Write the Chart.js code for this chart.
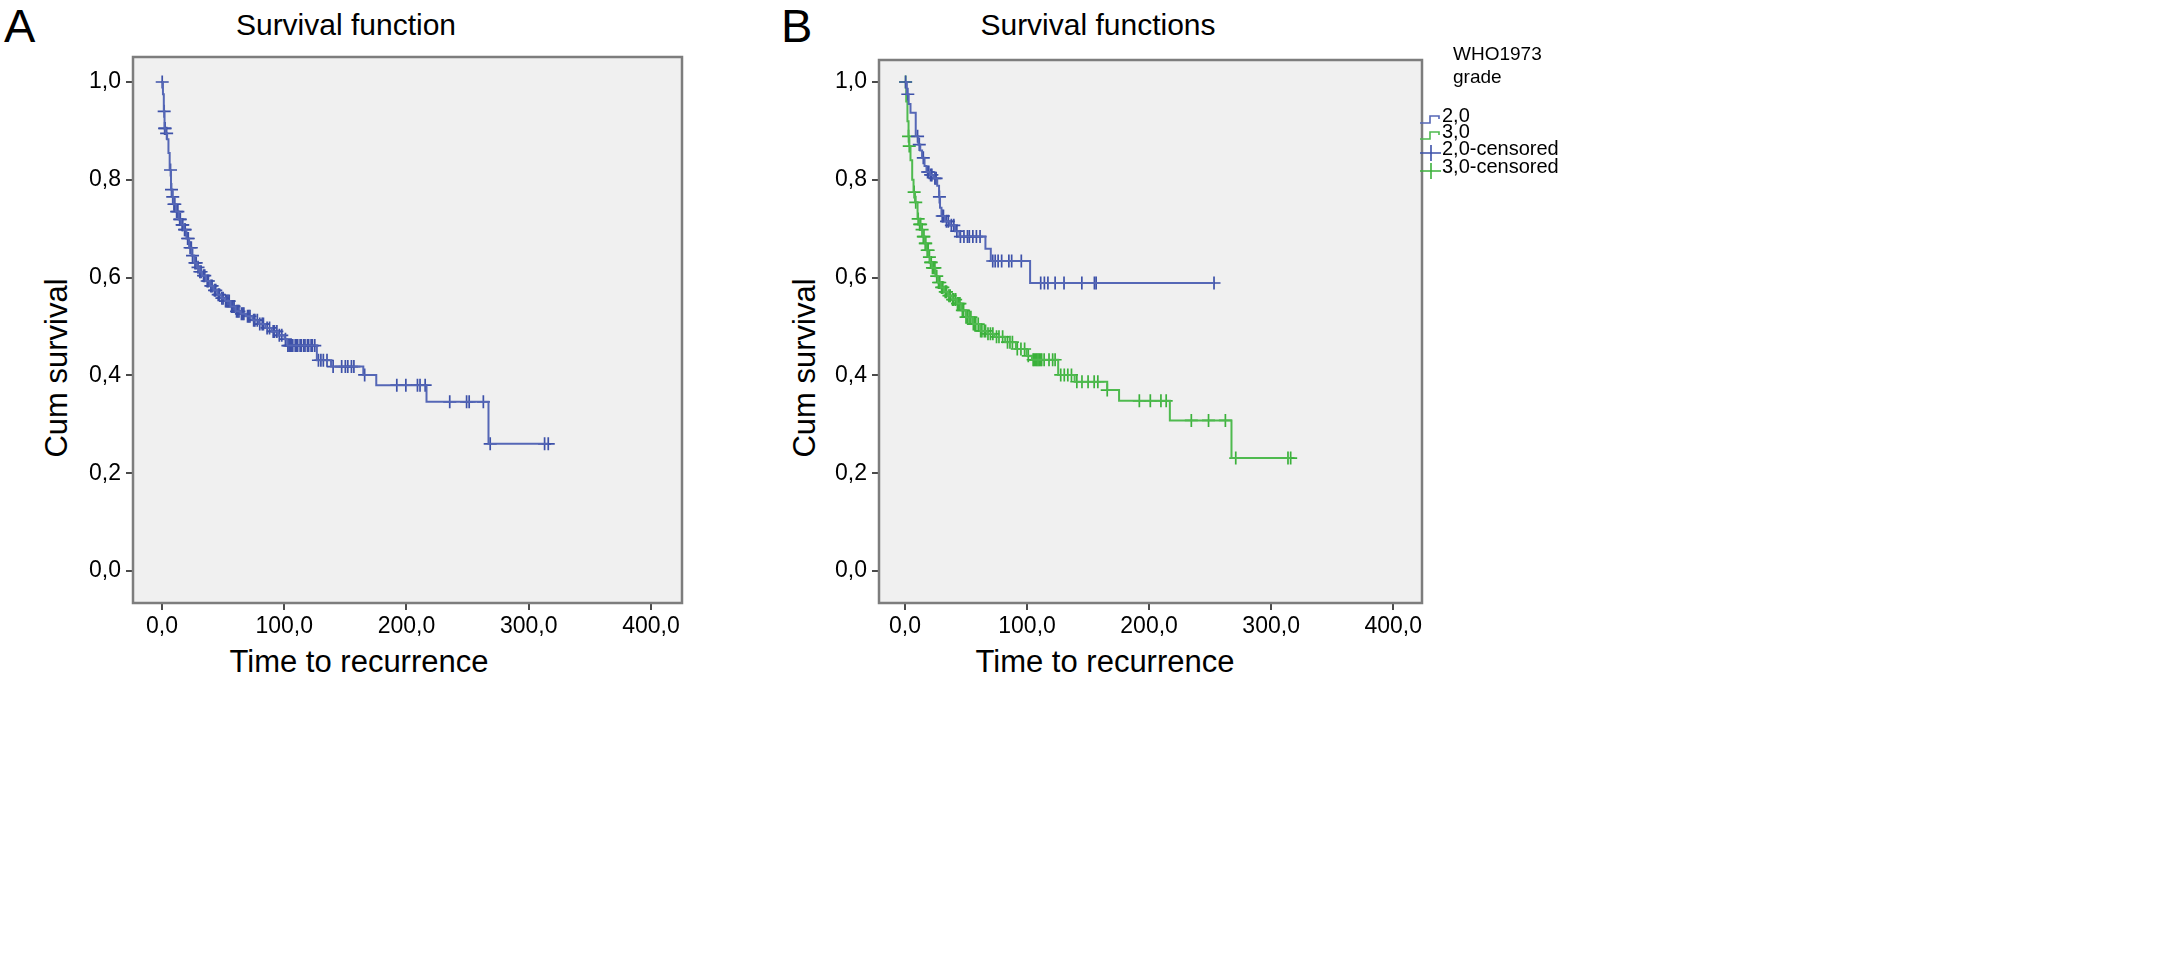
<!DOCTYPE html>
<html>
<head>
<meta charset="utf-8">
<script src="https://cdn.jsdelivr.net/npm/chart.js@4.4.1/dist/chart.umd.min.js"></script>
<style>
body { margin: 0; background: #fff; width: 2182px; height: 955px; position: relative; overflow: hidden; font-family: 'Liberation Sans', Arial, sans-serif; color: #000; }
.txt { position: absolute; white-space: nowrap; }
canvas { position: absolute; }
.ytitle { position: absolute; width: 300px; height: 36px; line-height: 36px; text-align: center; font-size: 31px; transform: rotate(-90deg); }
.legrow { position: absolute; font-size: 20px; line-height: 20px; white-space: nowrap; }
.legrow svg { position: absolute; left: -22px; top: 2px; }
</style>
</head>
<body>

<div class="txt" style="left:4px; top:-2px; font-size:47px;">A</div>
<div class="txt" style="left:781px; top:-2px; font-size:47px;">B</div>
<div class="txt" style="left:146px; width:400px; text-align:center; top:10px; font-size:30px; line-height:30px;">Survival function</div>
<div class="txt" style="left:898px; width:400px; text-align:center; top:10px; font-size:30px; line-height:30px;">Survival functions</div>

<div class="ytitle" style="left:-93px; top:350px;">Cum survival</div>
<div class="ytitle" style="left:655px; top:350px;">Cum survival</div>
<div class="txt" style="left:159px; width:400px; text-align:center; top:646px; font-size:31px; line-height:31px;">Time to recurrence</div>
<div class="txt" style="left:905px; width:400px; text-align:center; top:646px; font-size:31px; line-height:31px;">Time to recurrence</div>

<canvas id="chartA" width="700" height="700" style="left:0; top:0;"></canvas>
<canvas id="chartB" width="740" height="700" style="left:720px; top:0;"></canvas>

<div class="txt" style="left:1453px; top:42px; font-size:19px; line-height:23px;">WHO1973<br>grade</div>
<div id="legend"></div>

<script>
// axis ticks
const xTickValues = [0, 100, 200, 300, 400];
const yTickValues = [0, 0.2, 0.4, 0.6, 0.8, 1.0];

// Panel A - all patients: event times and survival after each step
const allTimes = [0, 0.8, 1.5, 2.1, 3, 4.2, 5.3, 6.3, 7.4, 8.5, 9.5, 11.6, 13.7, 15.8, 17.9, 20, 22.2, 24.3, 26.4, 28.5,
  30.6, 32.7, 35.9, 39.1, 42.2, 45.4, 48.5, 51.7, 56, 60.2, 64.4, 68.6, 73.9, 79.2, 84.5, 89.7, 95, 100.3, 102.4,
  126.7, 138.3, 164.7, 175.3, 216.4, 267.1];
const allSurv = [1.0, 0.975, 0.94, 0.905, 0.895, 0.883, 0.855, 0.82, 0.78, 0.765, 0.75, 0.735, 0.719, 0.708, 0.698, 0.68, 0.661, 0.645, 0.63, 0.621,
  0.612, 0.604, 0.593, 0.583, 0.574, 0.565, 0.558, 0.552, 0.541, 0.531, 0.526, 0.521, 0.513, 0.505, 0.497, 0.49, 0.482, 0.474, 0.461,
  0.431, 0.418, 0.401, 0.38, 0.346, 0.26];
const allCensored = [0.2, 1.8, 2.2, 2.6, 3.8, 7, 7.8, 8.8, 9.8, 10.5, 12, 13, 14.5, 15, 16.5, 17, 18.5, 19, 21, 21.5, 23, 24, 25, 27, 28,
  29.5, 31, 32, 34, 35, 37, 38, 40, 41, 43, 44, 46, 47, 49, 50, 52, 53, 54, 55, 57, 58, 59, 61, 62, 63, 65, 66, 67, 70, 71, 72,
  75, 76, 78, 80, 82, 83, 86, 88, 91, 92, 94, 96, 98, 101, 103, 104, 105, 106, 107, 109, 110, 111, 113, 114, 116, 117, 119, 120,
  122, 123, 125, 128, 130, 132, 135, 140, 147, 150, 152, 155, 157, 165.8, 192.1, 199.5, 209, 211.1, 215.3, 235.4, 249.2, 251.3,
  262.9, 268.5, 313, 316];

// Panel B - grade 2,0
const g2Times = [0, 1.5, 3, 4.5, 8.8, 11, 12.5, 14, 16, 17.6, 20.5, 23.5, 26.4, 27.9, 28.7, 29.9, 32.8, 36.7, 41, 44.6, 65.9, 70.3, 102.5];
const g2Surv = [1.0, 0.975, 0.955, 0.937, 0.889, 0.872, 0.86, 0.845, 0.828, 0.816, 0.81, 0.803, 0.788, 0.765, 0.743, 0.726, 0.715, 0.707, 0.695, 0.684, 0.659, 0.634, 0.589];
const g2Censored = [0.5, 2.3, 10.3, 11.7, 15, 18.5, 19.5, 21, 22, 24.5, 25.5, 28.2, 30.5, 31.5, 34, 35.5, 38, 40, 42.5, 45.4, 48.3,
  51.2, 52.7, 55.6, 58.5, 61.5, 71.9, 73.9, 76.3, 79.2, 85.1, 87.4, 95.3, 111.2, 114.2, 117.1, 123, 130.3, 144.9, 155.2, 156.6, 253.2];

// Panel B - grade 3,0
const g3Times = [0, 1, 2, 2.9, 3.5, 4.5, 5.9, 7, 8.2, 10.3, 11.8, 13.2, 14.6, 16.1, 17.6, 19.1, 20.5, 22, 24.9, 27, 29.3, 32, 35.2,
  38.8, 42.5, 46.2, 49.9, 55.7, 61.6, 67.4, 73.3, 82.1, 90.9, 99.7, 104, 125.5, 139, 165.7, 175.4, 217, 267.5];
const g3Surv = [1.0, 0.96, 0.92, 0.889, 0.869, 0.84, 0.8, 0.775, 0.754, 0.72, 0.709, 0.698, 0.684, 0.67, 0.656, 0.642, 0.631, 0.62, 0.603, 0.59, 0.58, 0.571, 0.563,
  0.555, 0.547, 0.533, 0.519, 0.505, 0.491, 0.485, 0.479, 0.468, 0.454, 0.44, 0.432, 0.401, 0.387, 0.37, 0.348, 0.308, 0.231];
const g3Censored = [0.5, 2.9, 3.5, 7.5, 8.8, 10.8, 12, 12.8, 14, 15, 15.5, 16.6, 17, 18.2, 19, 20, 21, 21.5, 22.5, 23.5, 24.5, 26,
  27.5, 28.5, 30, 31, 33, 34, 36, 37, 39, 40, 41.5, 43, 44, 45, 47, 48, 50, 51, 52.5, 54, 56, 57, 58, 60, 62, 63, 65, 66, 68, 70,
  72, 75, 77, 80, 84, 86, 88, 92, 95, 98, 101, 105, 106, 107, 108, 109, 110, 111, 112, 114, 118, 121, 123, 127.6, 130.5, 133.4,
  136.4, 140.8, 145, 150, 155, 158, 165.7, 192, 201, 209.7, 214, 234.6, 248.7, 262.5, 271, 313.8, 316];

const blueLine = '#5567b6';
const blueMark = '#3d51a9';
const greenLine = '#4fba4f';
const greenMark = '#3bb13b';

// survival level in force at time t
function survAt(times, surv, t) {
    let s = surv[0];
    for (let i = 0; i < times.length; i++) {
        if (times[i] <= t) s = surv[i];
    }
    return s;
}

function kmDatasets(times, surv, censored, lineColor, markColor) {
    const pts = times.map((t, i) => ({ x: t, y: surv[i] }));
    const lastT = Math.max(...censored);
    if (lastT > times[times.length - 1]) pts.push({ x: lastT, y: surv[surv.length - 1] });
    const marks = censored.map(t => ({ x: t, y: survAt(times, surv, t) }));
    return [
        // 'before' in Chart.js = hold the previous level, drop at the new time
        { data: pts, showLine: true, stepped: 'before', borderColor: lineColor, borderWidth: 2, pointRadius: 0, fill: false },
        { data: marks, showLine: false, pointStyle: 'cross', pointRadius: 6.5, borderColor: markColor, borderWidth: 1.7, backgroundColor: markColor }
    ];
}

const fmt = v => Number(v).toFixed(1).replace('.', ',');

// grey plot background and frame
const framePlugin = {
    id: 'frame',
    beforeDraw(chart) {
        const a = chart.chartArea, ctx = chart.ctx;
        ctx.save();
        ctx.fillStyle = '#f0f0f0';
        ctx.fillRect(a.left, a.top, a.right - a.left, a.bottom - a.top);
        ctx.restore();
    },
    afterDraw(chart) {
        const a = chart.chartArea, ctx = chart.ctx;
        ctx.save();
        ctx.strokeStyle = '#7d7d7d';
        ctx.lineWidth = 2.5;
        ctx.strokeRect(a.left, a.top, a.right - a.left, a.bottom - a.top);
        ctx.restore();
    }
};

function makeChart(id, datasets, o) {
    return new Chart(document.getElementById(id), {
        type: 'scatter',
        data: { datasets: datasets },
        options: {
            animation: false,
            responsive: false,
            devicePixelRatio: 1,
            layout: { padding: { top: o.top, right: o.right, left: 0, bottom: 0 } },
            plugins: { legend: { display: false }, tooltip: { enabled: false } },
            scales: {
                x: {
                    type: 'linear', min: o.xMin, max: o.xMax,
                    afterBuildTicks: s => { s.ticks = xTickValues.map(v => ({ value: v })); },
                    afterFit: s => { s.height = o.xHeight; },
                    ticks: { font: { family: 'Liberation Sans', size: 23 }, color: '#000', padding: 3, maxRotation: 0, callback: fmt },
                    grid: { drawOnChartArea: false, drawTicks: true, tickLength: 7, color: '#4a4a4a', lineWidth: 2 },
                    border: { display: false }
                },
                y: {
                    type: 'linear', min: o.yMin, max: o.yMax,
                    afterBuildTicks: s => { s.ticks = yTickValues.map(v => ({ value: v })); },
                    afterFit: s => { s.width = o.yWidth; },
                    ticks: { font: { family: 'Liberation Sans', size: 23 }, color: '#000', padding: 5, callback: fmt },
                    grid: { drawOnChartArea: false, drawTicks: true, tickLength: 7, color: '#4a4a4a', lineWidth: 2 },
                    border: { display: false }
                }
            }
        },
        plugins: [framePlugin]
    });
}

makeChart('chartA', kmDatasets(allTimes, allSurv, allCensored, blueLine, blueMark),
    { top: 57, right: 18, yWidth: 133, xHeight: 97, xMin: -23.7, xMax: 425.4, yMin: -0.0654, yMax: 1.0511 });

makeChart('chartB', [
    ...kmDatasets(g2Times, g2Surv, g2Censored, blueLine, blueMark),
    ...kmDatasets(g3Times, g3Surv, g3Censored, greenLine, greenMark)
], { top: 60, right: 38, yWidth: 159, xHeight: 97, xMin: -21.3, xMax: 423.6, yMin: -0.0654, yMax: 1.045 });

// legend for panel B
const legendItems = [
    { label: '2,0', color: blueLine, kind: 'step' },
    { label: '3,0', color: greenLine, kind: 'step' },
    { label: '2,0-censored', color: blueMark, kind: 'cross' },
    { label: '3,0-censored', color: greenMark, kind: 'cross' }
];
const legendRows = [115, 131, 148, 166];
const legend = document.getElementById('legend');
legendItems.forEach((item, i) => {
    const row = document.createElement('div');
    row.className = 'legrow';
    row.style.left = '1442px';
    row.style.top = (legendRows[i] - 10) + 'px';
    const path = item.kind === 'step'
        ? 'M0 16 H10 V9 H19 V12'
        : 'M0 13 H21 M11 5 V21';
    row.innerHTML = '<svg width="22" height="24"><path d="' + path + '" fill="none" stroke="' + item.color + '" stroke-width="1.6"/></svg>' + item.label;
    legend.appendChild(row);
});
</script>
</body>
</html>
